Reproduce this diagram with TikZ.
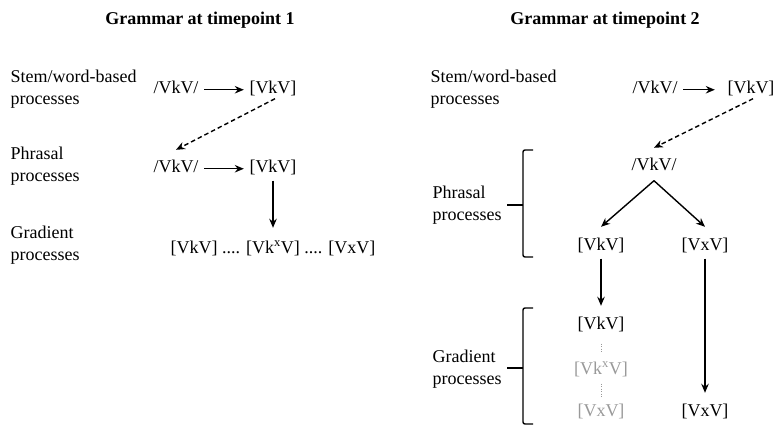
\documentclass[tikz,border=0pt]{standalone}
\usepackage{fontspec}
\setmainfont{Liberation Serif}
\usetikzlibrary{arrows.meta}
\definecolor{fadedform}{gray}{0.6}

\begin{document}
\begin{tikzpicture}[x=1pt, y=-1pt, font=\fontsize{18}{22}\selectfont,
  >={Stealth[length=9pt, width=7.5pt]}, line width=1.4pt,
  form/.style={inner sep=0pt, inner xsep=5pt, anchor=base, text height=12.5pt, text depth=4pt},
  lvl/.style={align=left, anchor=west, inner sep=0pt},
  ttl/.style={font=\fontsize{18}{22}\selectfont\bfseries},
  sketchy/.style={dash pattern=on 4.5pt off 3pt},
  fade/.style={draw=fadedform, line width=0.9pt, dash pattern=on 1pt off 1.5pt}]
\useasboundingbox (0,0) rectangle (777,425);
% timepoint 1
\node[ttl] (ttlA) at (200,20) {Grammar at timepoint 1};
\node[lvl] (stemA) at (10,89) {Stem/word-based\\processes};
\node[lvl] (phrA) at (10,166) {Phrasal\\processes};
\node[lvl] (gradA) at (10,245) {Gradient\\processes};
\node[form] (urA) at (176,94) {/VkV/};
\node[form] (srA) at (273,94) {[VkV]};
\node[form] (purA) at (176,173) {/VkV/};
\node[form] (psrA) at (273,173) {[VkV]};
\node[form] (gA) at (273,253) {[VkV] .... [Vk\textsuperscript{x}V] .... [VxV]};
\draw[->] (urA) -- (srA);
\draw[->, sketchy] ([xshift=2pt]srA.south) -- ([yshift=10pt]purA.north);
\draw[->] (purA) -- (psrA);
\draw[->, shorten <=3pt, shorten >=12pt] (psrA) -- (psrA |- gA.north);
% timepoint 2
\node[ttl] (ttlB) at (605,20) {Grammar at timepoint 2};
\node[lvl] (stemB) at (430,89) {Stem/word-based\\processes};
\node[lvl] (phrB) at (432,205) {Phrasal\\processes};
\node[lvl] (gradB) at (432,369) {Gradient\\processes};
\node[form] (urB) at (655,94) {/VkV/};
\node[form] (srB) at (751,94) {[VkV]};
\node[form] (purB) at (654,171) {/VkV/};
\node[form] (psrB) at (601,251) {[VkV]};
\node[form] (psxB) at (705,251) {[VxV]};
\node[form] (gkB) at (601,329) {[VkV]};
\node[form, text=fadedform] (gxB) at (601,374) {[Vk\textsuperscript{x}V]};
\node[form, text=fadedform] (gvB) at (601,416) {[VxV]};
\node[form] (gxxB) at (705,416) {[VxV]};
\coordinate (apexB) at ([yshift=-5pt]purB.south);
\draw[->, shorten >=7pt] (urB) -- (srB);
\draw[->, sketchy] ([xshift=2pt]srB.south) -- ([yshift=10pt]purB.north);
\draw[->] (apexB) -- ([yshift=11pt]psrB.north);
\draw[->] (apexB) -- ([yshift=11pt]psxB.north);
\draw[->, shorten <=3pt, shorten >=10pt] (psrB) -- (gkB);
\draw[->, shorten <=3pt, shorten >=10pt] (psxB) -- (gxxB);
\draw[fade, shorten <=10pt, shorten >=8.5pt] (gkB) -- (gxB);
\draw[fade, shorten <=5pt, shorten >=6.5pt] (gxB) -- (gvB);
% brackets
\draw[rounded corners=2pt] (533,150) -- (523,150) -- (523,257) -- (533,257);
\draw (507,205) -- (523,205);
\draw[rounded corners=2pt] (533,308) -- (523,308) -- (523,424) -- (533,424);
\draw (507,368) -- (523,368);
\end{tikzpicture}
\end{document}
